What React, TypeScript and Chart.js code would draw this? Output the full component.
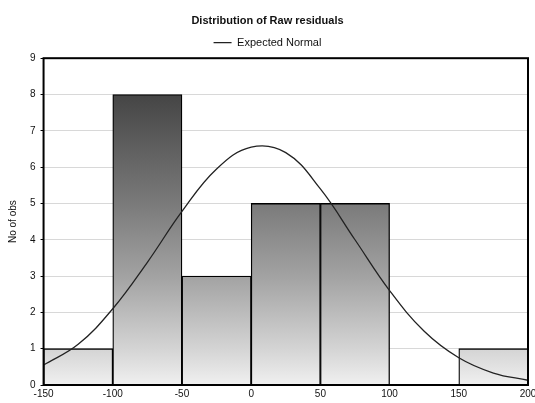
import React, { useEffect, useRef } from "react";
import { Chart, registerables } from "chart.js";

Chart.register(...registerables);

const binCenters = [-125, -75, -25, 25, 75, 125, 175];
const binCounts = [1, 8, 3, 5, 5, 0, 1];
const curveX = [-150, -125, -100, -75, -50, -25, 0, 25, 50, 75, 100, 125, 150, 175, 200];
const curveY = [0.55, 1.12, 2.1, 3.38, 4.78, 5.95, 6.55, 6.4, 5.4, 4.0, 2.6, 1.48, 0.75, 0.33, 0.13];
const xTicks = [-150, -100, -50, 0, 50, 100, 150, 200];

const FONT = "'Liberation Sans', Arial, sans-serif";

export default function App() {
  const ref = useRef<HTMLCanvasElement | null>(null);

  useEffect(() => {
    document.body.style.margin = "0";
    document.body.style.overflow = "hidden";
    const canvas = ref.current!;
    const frame = {
      id: "frame",
      afterDatasetsDraw(chart: any) {
        const { ctx, chartArea: a } = chart;
        ctx.save();
        ctx.strokeStyle = "#000";
        ctx.lineWidth = 2;
        ctx.strokeRect(a.left, a.top, a.right - a.left, a.bottom - a.top);
        ctx.restore();
      },
    };
    const gradFill = (c: any) => {
      const chart = c.chart;
      const a = chart.chartArea;
      if (!a) return "#888";
      const ys = chart.scales.y;
      const g = chart.ctx.createLinearGradient(0, ys.getPixelForValue(9), 0, ys.getPixelForValue(0));
      g.addColorStop(0, "#383838");
      g.addColorStop(1 / 9, "#454545");
      g.addColorStop(4 / 9, "#7a7a7a");
      g.addColorStop(6 / 9, "#a2a2a2");
      g.addColorStop(8 / 9, "#d4d4d4");
      g.addColorStop(1, "#f0f0f0");
      return g;
    };
    const chart = new Chart(canvas, {
      data: {
        datasets: [
          {
            type: "line",
            label: "Expected Normal",
            data: curveX.map((x, i) => ({ x, y: curveY[i] })),
            borderColor: "#222",
            backgroundColor: "#222",
            borderWidth: 1.3,
            pointRadius: 0,
            tension: 0.4,
            fill: false,
            order: 0,
          },
          {
            type: "bar",
            label: "bars",
            data: binCenters.map((x, i) => ({ x, y: binCounts[i] })),
            backgroundColor: gradFill,
            borderColor: "#000",
            borderWidth: 1.3,
            barPercentage: 1,
            categoryPercentage: 1,
            order: 1,
          },
        ],
      },
      options: {
        animation: false,
        responsive: false,
        maintainAspectRatio: false,
        layout: { padding: { left: 7, right: 17, top: 8, bottom: 0 } },
        plugins: {
          title: {
            display: true,
            text: "Distribution of Raw residuals",
            color: "#111",
            font: { family: FONT, size: 11 },
            padding: { top: 6, bottom: 4 },
          },
          legend: {
            display: true,
            labels: {
              filter: (item: any) => item.text === "Expected Normal",
              color: "#111",
              font: { family: FONT, size: 11 },
              boxWidth: 18,
              boxHeight: 0,
              padding: 6,
            },
          },
          tooltip: { enabled: false },
        },
        scales: {
          x: {
            type: "linear",
            min: -150,
            max: 200,
            offset: false,
            afterBuildTicks: (s: any) => {
              s.ticks = xTicks.map((v) => ({ value: v }));
            },
            grid: { display: false, drawTicks: false, offset: false },
            border: { display: false },
            ticks: {
              color: "#111",
              font: { family: FONT, size: 10 },
              padding: 3,
              maxRotation: 0,
              autoSkip: false,
            },
          },
          y: {
            min: 0,
            max: 9,
            ticks: {
              stepSize: 1,
              color: "#111",
              font: { family: FONT, size: 10 },
              padding: 5,
            },
            grid: { color: "#d8d8d8", lineWidth: 1, drawTicks: true, tickLength: 3, tickColor: "#000" },
            border: { display: false },
            title: {
              display: true,
              text: "No of obs",
              color: "#111",
              font: { family: FONT, size: 10 },
              padding: { top: 0, bottom: 6 },
            },
          },
        },
      },
      plugins: [frame],
    } as any);
    return () => chart.destroy();
  }, []);

  return (
    <div style={{ position: "absolute", left: 0, top: 0, width: 545, height: 403 }}>
      <canvas ref={ref} width={545} height={403} style={{ display: "block" }} />
    </div>
  );
}
